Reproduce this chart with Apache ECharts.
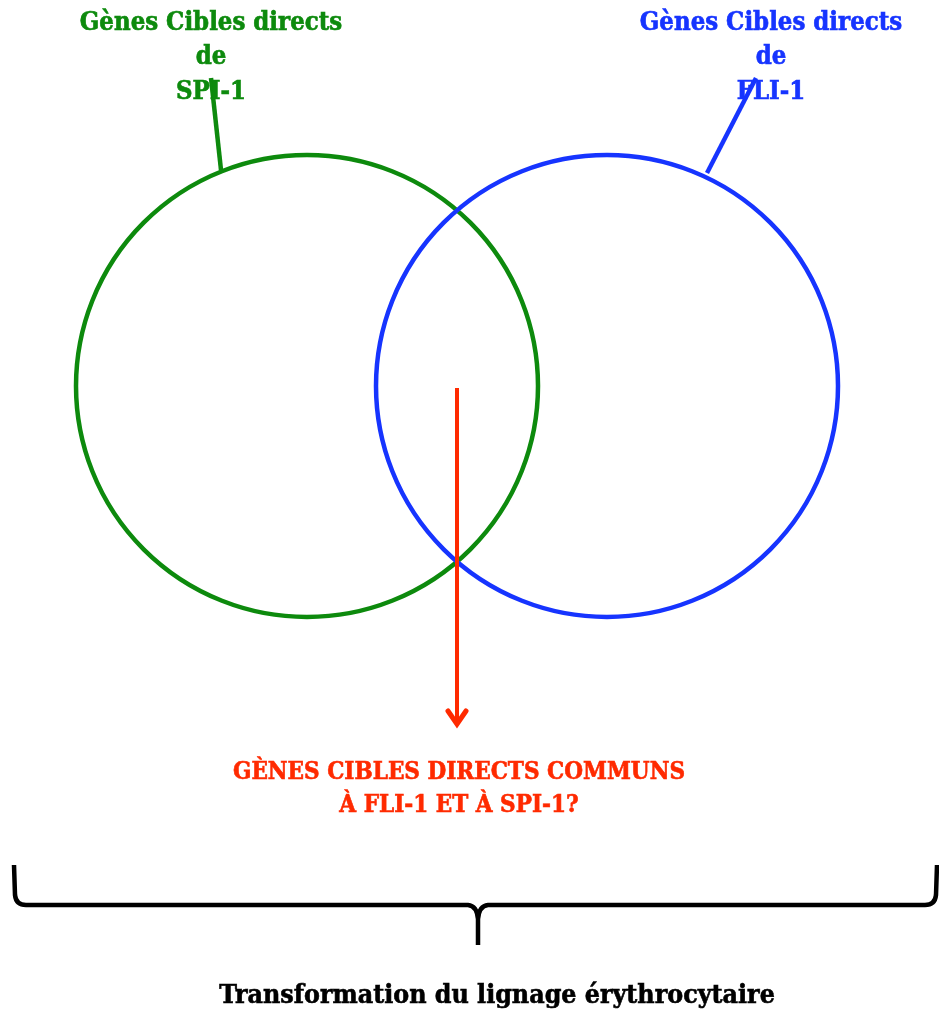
<!DOCTYPE html>
<html>
<head>
<meta charset="utf-8">
<script src="https://cdn.jsdelivr.net/npm/echarts@6/dist/echarts.min.js"></script>
<style>
  html, body { margin: 0; padding: 0; background: #fff; }
  #venn { width: 939px; height: 1009px; }
</style>
</head>
<body>
<div id="venn"></div>
<script>
// ensembles (cercles) : nom, centre x, centre y, rayon
const setNames = ['SPI-1', 'FLI-1']
const setCx = [307, 607]
const setCy = [386, 386]
const setR = [231, 231]
const setColors = ['#0d8a0d', '#1634ff']

// étiquettes des ensembles
const setLabels = [
  ['Gènes Cibles directs', 'de', 'SPI-1'],
  ['Gènes Cibles directs', 'de', 'FLI-1']
]
const labelX = [211, 771]
const labelY = [23, 57, 92]
// traits de rappel : [x0, y0, x1, y1]
const leaders = [
  [211, 78, 221, 170],
  [756, 78, 707, 173]
]

// flèche vers l'intersection
const arrow = [457, 388, 457, 724]
const commonText = ['GÈNES CIBLES DIRECTS COMMUNS', 'À FLI-1 ET À SPI-1?']
const commonY = [773, 806]
const commonX = 459

// accolade
const brace = { x0: 14, x1: 937, top: 865, mid: 905, tip: 945, cx: 478 }
const footer = 'Transformation du lignage érythrocytaire'
const footerPos = [497, 996]

const FONT = '"DejaVu Serif Condensed", "DejaVu Serif", serif'
const RED = '#ff2a00'

const chart = echarts.init(document.getElementById('venn'))

function renderCircle(params, api) {
  const i = params.dataIndex
  const c = api.coord([api.value(0), api.value(1)])
  const r = api.size([api.value(2), 0])[0]
  return {
    type: 'circle',
    shape: { cx: c[0], cy: c[1], r: r },
    style: { fill: 'none', stroke: setColors[i], lineWidth: 4.5 }
  }
}

function renderLeader(params, api) {
  const p0 = api.coord([api.value(0), api.value(1)])
  const p1 = api.coord([api.value(2), api.value(3)])
  return {
    type: 'line',
    shape: { x1: p0[0], y1: p0[1], x2: p1[0], y2: p1[1] },
    style: { stroke: setColors[params.dataIndex], lineWidth: 4.5 }
  }
}

function renderArrow(params, api) {
  const p0 = api.coord([api.value(0), api.value(1)])
  const p1 = api.coord([api.value(2), api.value(3)])
  return {
    type: 'group',
    children: [
      {
        type: 'line',
        shape: { x1: p0[0], y1: p0[1], x2: p1[0], y2: p1[1] - 3 },
        style: { stroke: RED, lineWidth: 4 }
      },
      {
        type: 'polyline',
        shape: { points: [[p1[0] - 9, p1[1] - 13], [p1[0], p1[1]], [p1[0] + 9, p1[1] - 13]] },
        style: { stroke: RED, lineWidth: 5, fill: 'none', lineJoin: 'miter', lineCap: 'round' }
      }
    ]
  }
}

function renderBrace(params, api) {
  const a = api.coord([brace.x0, brace.top])
  const b = api.coord([brace.x1, brace.top])
  const m = api.coord([brace.cx, brace.mid])[1]
  const t = api.coord([brace.cx, brace.tip])
  const cx = t[0]
  const path =
    'M' + a[0] + ',' + a[1] +
    ' L' + (a[0] + 1) + ',' + (m - 10) +
    ' Q' + (a[0] + 2) + ',' + m + ' ' + (a[0] + 12) + ',' + m +
    ' L' + (cx - 10) + ',' + m +
    ' Q' + (cx - 1) + ',' + (m + 1) + ' ' + cx + ',' + (m + 14) +
    ' L' + cx + ',' + t[1] +
    ' M' + cx + ',' + (m + 14) +
    ' Q' + (cx + 1) + ',' + (m + 1) + ' ' + (cx + 10) + ',' + m +
    ' L' + (b[0] - 12) + ',' + m +
    ' Q' + (b[0] - 2) + ',' + m + ' ' + (b[0] - 1) + ',' + (m - 10) +
    ' L' + b[0] + ',' + a[1]
  return {
    type: 'path',
    shape: { pathData: path },
    style: { stroke: '#000', lineWidth: 4.5, fill: 'none' }
  }
}

function textEl(x, y, text, color, size) {
  return {
    type: 'text',
    x: x,
    y: y,
    style: {
      text: text,
      fill: color,
      font: 'bold ' + size + 'px ' + FONT,
      align: 'center',
      verticalAlign: 'middle',
      stroke: color,
      lineWidth: 0.6
    }
  }
}

function renderLabels(params, api) {
  const children = []
  setLabels.forEach((lines, i) => {
    lines.forEach((s, j) => {
      const p = api.coord([labelX[i], labelY[j]])
      children.push(textEl(p[0], p[1], s, setColors[i], 25.5))
    })
  })
  commonText.forEach((s, j) => {
    const p = api.coord([commonX, commonY[j]])
    children.push(textEl(p[0], p[1], s, RED, 24))
  })
  const f = api.coord(footerPos)
  children.push(textEl(f[0], f[1], footer, '#000', 26.5))
  return { type: 'group', children: children }
}

chart.setOption({
  animation: false,
  grid: { left: 0, right: 0, top: 0, bottom: 0 },
  xAxis: { type: 'value', min: 0, max: 939, show: false },
  yAxis: { type: 'value', min: 0, max: 1009, inverse: true, show: false },
  series: [
    {
      name: 'ensembles',
      type: 'custom',
      renderItem: renderCircle,
      data: setNames.map((n, i) => ({ name: n, value: [setCx[i], setCy[i], setR[i]] }))
    },
    {
      name: 'rappels',
      type: 'custom',
      renderItem: renderLeader,
      data: leaders
    },
    {
      name: 'fleche',
      type: 'custom',
      renderItem: renderArrow,
      data: [arrow]
    },
    {
      name: 'accolade',
      type: 'custom',
      renderItem: renderBrace,
      data: [[brace.cx, brace.mid]]
    },
    {
      name: 'textes',
      type: 'custom',
      renderItem: renderLabels,
      data: [[0, 0]],
      z: 5
    }
  ]
})
</script>
</body>
</html>
